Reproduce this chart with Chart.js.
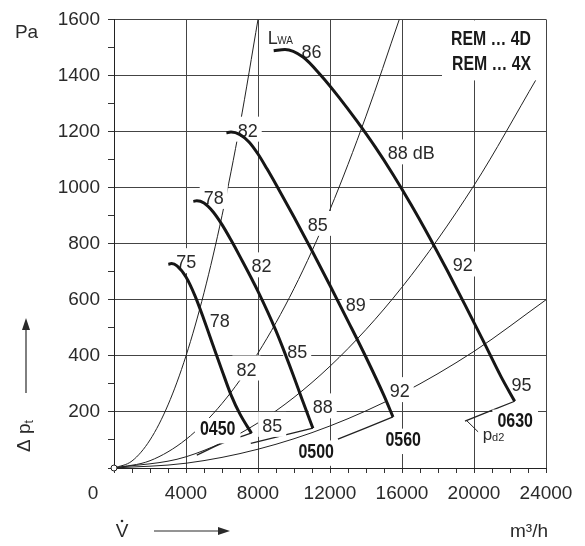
<!DOCTYPE html>
<html>
<head>
<meta charset="utf-8">
<script src="https://cdn.jsdelivr.net/npm/chart.js@4.4.1/dist/chart.umd.min.js"></script>
<style>
html,body{margin:0;padding:0;background:#fff;}
#wrap{width:585px;height:546px;position:relative;}
</style>
</head>
<body>
<div id="wrap"><canvas id="c" width="585" height="546"></canvas></div>
<script>
// ---------- data (volume flow m3/h, total pressure Pa) ----------
const xTickLabels = ['4000', '8000', '12000', '16000', '20000', '24000'];
const yTickLabels = ['200', '400', '600', '800', '1000', '1200', '1400', '1600'];

// fan curves
const fan0450 = [[3017,727],[3200,729],[3500,721],[4000,681],[4500,614],[5000,529],[5500,438],[6000,348],[6500,261],[7000,192],[7640,124]];
const fan0500 = [[4406,951],[4600,953],[5000,945],[5500,914],[6000,868],[6500,813],[7000,754],[8000,630],[9000,489],[10000,324],[10500,236],[11050,142]];
const fan0560 = [[6244,1196],[6500,1198],[7000,1189],[7500,1163],[8000,1120],[8500,1067],[9000,1011],[10000,895],[11000,775],[12000,651],[13000,524],[14000,395],[15000,258],[15500,182]];
const fan0630 = [[8872,1488],[9500,1493],[10500,1466],[11500,1400],[12500,1322],[13500,1237],[14500,1146],[15500,1047],[16500,940],[17500,826],[18500,706],[19500,582],[20500,455],[21500,326],[22260,238]];

// system lines through the origin
const sysA = [[0,0],[1000,25],[2000,100],[3000,225],[4000,400],[5000,625],[6000,900],[7000,1225],[8000,1600]];
const sysB = [[0,0],[2000,26],[4000,102],[6000,230],[8000,410],[10000,640],[12000,922],[14000,1255],[15850,1600]];
const sysC = [[0,0],[4000,40],[8000,161],[12000,363],[16000,645],[20000,1008],[23500,1391]];
const sysD = [[0,0],[4000,17],[8000,67],[12000,150],[16000,266],[20000,416],[24000,600]];

// p_d2 end segments
const pd2_0450 = [[7640,124],[6000,88],[4600,46]];
const pd2_0500 = [[11050,142],[7600,88]];
const pd2_0560 = [[15500,182],[12440,103]];
const pd2_0630 = [[22260,238],[19500,167]];
const pd2Leader = [[19578,170],[20228,129]];

// sound power labels [text, V, p]
const dbLabels = [
  ['75',4011,736],['78',5539,965],['82',7428,1205],['86',10967,1486],
  ['78',5872,526],['82',8189,721],['85',11317,869],['88 dB',16511,1124],
  ['82',7356,353],['85',10178,414],['89',13428,583],['92',19372,724],
  ['85',8789,152],['88',11594,218],['92',15872,276],['95',22633,299]
];
const fanLabels = [['0450',5761,142],['0500',11233,62],['0560',16067,104],['0630',22289,172]];
const seriesTitles = ['REM \u2026 4D', 'REM \u2026 4X'];
const lwaLabel = [8539, 1512];
const pd2Label = [20480, 99];

// ---------- drawing ----------
const FONT = '"Liberation Sans", Arial, Helvetica, sans-serif';
const TXT = '#2a2a2a';
const mk = arr => arr.map(([x, y]) => ({x, y}));
const thick = arr => ({data: mk(arr), borderColor:'#161616', borderWidth:3, pointRadius:0, cubicInterpolationMode:'monotone', fill:false, order:0, thick:true, borderCapStyle:'butt', borderJoinStyle:'round'});
const thin = (arr, w) => ({data: mk(arr), borderColor:'#222', borderWidth:w || 1, pointRadius:0, cubicInterpolationMode:'monotone', fill:false, order:10});

function condensed(ctx, t, x, y, font, sx, align) {
  ctx.save();
  ctx.translate(x, y);
  ctx.scale(sx, 1);
  ctx.font = font;
  ctx.textAlign = align;
  ctx.textBaseline = 'alphabetic';
  ctx.fillText(t, 0, 0);
  ctx.restore();
}

function drawLabels(chart) {
  const {ctx, chartArea: ca} = chart;
  const xs = chart.scales.x, ys = chart.scales.y;
  ctx.save();
  // legend panel
  ctx.fillStyle = '#fff';
  ctx.fillRect(ca.right - 104, ca.top + 1, 104, 60);
  ctx.fillStyle = '#1a1a1a';
  seriesTitles.forEach((t, i) => {
    condensed(ctx, t, ca.right - 15, ca.top + 26 + i * 25, 'bold 20px ' + FONT, 0.79, 'right');
  });
  // dB labels
  const fs = 18, cap = fs * 0.72;
  ctx.font = fs + 'px ' + FONT;
  dbLabels.forEach(([t, v, p]) => {
    const cx = xs.getPixelForValue(v), cy = ys.getPixelForValue(p);
    const w = ctx.measureText(t).width;
    ctx.fillStyle = '#fff';
    ctx.fillRect(cx - w / 2 - 4, cy - cap / 2 - 7, w + 8, cap + 12);
    ctx.fillStyle = TXT;
    ctx.textAlign = 'center';
    ctx.textBaseline = 'alphabetic';
    ctx.fillText(t, cx, cy + cap / 2);
  });
  // fan size labels
  const bfs = 20, bcap = bfs * 0.72, sx = 0.8;
  fanLabels.forEach(([t, v, p]) => {
    const cx = xs.getPixelForValue(v), cy = ys.getPixelForValue(p);
    ctx.font = 'bold ' + bfs + 'px ' + FONT;
    const w = ctx.measureText(t).width * sx;
    ctx.fillStyle = '#fff';
    ctx.fillRect(cx - w / 2 - 5, cy - bcap / 2 - 3, w + 10, bcap + 11);
    ctx.fillStyle = '#161616';
    condensed(ctx, t, cx, cy + bcap / 2, 'bold ' + bfs + 'px ' + FONT, sx, 'center');
  });
  // L_WA
  ctx.fillStyle = TXT;
  ctx.textAlign = 'left';
  ctx.textBaseline = 'alphabetic';
  let lx = xs.getPixelForValue(lwaLabel[0]), ly = ys.getPixelForValue(lwaLabel[1]);
  ctx.font = '18px ' + FONT;
  ctx.fillText('L', lx, ly);
  let lw = ctx.measureText('L').width;
  ctx.font = '10px ' + FONT;
  ctx.fillText('WA', lx + lw - 0.5, ly);
  // p_d2
  lx = xs.getPixelForValue(pd2Label[0]); ly = ys.getPixelForValue(pd2Label[1]);
  ctx.font = '17px ' + FONT;
  ctx.fillText('p', lx, ly);
  lw = ctx.measureText('p').width;
  ctx.font = '11px ' + FONT;
  ctx.fillText('d2', lx + lw, ly + 1);
  ctx.restore();
}

function drawAxisDecor(chart) {
  const {ctx, chartArea: ca} = chart;
  const xs = chart.scales.x;
  ctx.save();
  ctx.fillStyle = TXT;
  ctx.strokeStyle = TXT;
  ctx.font = '19px ' + FONT;
  ctx.textBaseline = 'middle';
  ctx.textAlign = 'center';
  // origin label
  ctx.fillText('0', xs.getPixelForValue(0) - 21, ca.bottom + 5 + 9 + 19 * 1.2 / 2);
  // unit Pa
  ctx.fillText('Pa', 26.5, 33);
  // y title
  ctx.save();
  ctx.translate(25, 436);
  ctx.rotate(-Math.PI / 2);
  ctx.textAlign = 'left';
  ctx.font = '19px ' + FONT;
  const part = '\u0394 p';
  const w1 = ctx.measureText(part).width;
  ctx.font = '12px ' + FONT;
  const w2 = ctx.measureText('t').width;
  ctx.font = '19px ' + FONT;
  ctx.fillText(part, -(w1 + w2) / 2, 0);
  ctx.font = '12px ' + FONT;
  ctx.fillText('t', -(w1 + w2) / 2 + w1, 5);
  ctx.restore();
  // y arrow
  ctx.lineWidth = 1.2;
  ctx.beginPath(); ctx.moveTo(26, 393); ctx.lineTo(26, 328); ctx.stroke();
  ctx.beginPath(); ctx.moveTo(26, 318); ctx.lineTo(22, 330); ctx.lineTo(30, 330); ctx.closePath(); ctx.fill();
  // x title V-dot
  ctx.font = '19px ' + FONT;
  ctx.fillText('V', 122, 532);
  ctx.beginPath(); ctx.arc(122, 521, 1.3, 0, Math.PI * 2); ctx.fill();
  // x arrow
  ctx.beginPath(); ctx.moveTo(154, 531); ctx.lineTo(220, 531); ctx.stroke();
  ctx.beginPath(); ctx.moveTo(230, 531); ctx.lineTo(218, 527); ctx.lineTo(218, 535); ctx.closePath(); ctx.fill();
  // unit m3/h
  ctx.fillText('m\u00b3/h', 529, 532);
  ctx.restore();
}

const decorPlugin = {
  id: 'decor',
  beforeDatasetsDraw(chart) { chart.$labelsDone = false; },
  beforeDatasetDraw(chart, args) {
    if (chart.$labelsDone) return;
    const ds = chart.data.datasets[args.index];
    if (!ds.thick) return;
    chart.$labelsDone = true;
    drawLabels(chart);
  },
  afterDraw(chart) { drawAxisDecor(chart); }
};

const tickFont = {family: FONT, size: 19};

new Chart(document.getElementById('c'), {
  type: 'line',
  data: {
    datasets: [
      {data: [{x:0, y:0}], showLine:false, pointRadius:3, pointBackgroundColor:'#fff', pointBorderColor:'#222', pointBorderWidth:1, order:-1, clip:false},
      thick(fan0450), thick(fan0500), thick(fan0560), thick(fan0630),
      thin(sysA), thin(sysB), thin(sysC), thin(sysD),
      thin(pd2_0450, 1.3), thin(pd2_0500, 1.3), thin(pd2_0560, 1.3), thin(pd2_0630, 1.3), thin(pd2Leader, 1)
    ]
  },
  options: {
    responsive: false,
    animation: false,
    events: [],
    layout: {padding: {left: 0, top: 15, right: 39, bottom: 0}},
    plugins: {legend: {display: false}, tooltip: {enabled: false}},
    scales: {
      x: {
        type: 'linear', min: 0, max: 24000,
        afterFit(s) { s.height = 78; },
        ticks: {stepSize: 1000, autoSkip: false, maxRotation: 0, padding: 9, color: TXT, font: tickFont,
          callback: v => xTickLabels.includes(String(v)) ? String(v) : ''},
        grid: {color: c => (c.tick && c.tick.value % 4000 === 0) ? '#444' : 'rgba(0,0,0,0)', tickColor: '#333', tickLength: 5, lineWidth: 1},
        border: {display: true, color: '#222', width: 1}
      },
      y: {
        type: 'linear', min: 0, max: 1600,
        afterFit(s) { s.width = 114; },
        ticks: {stepSize: 100, autoSkip: false, padding: 8, color: TXT, font: tickFont,
          callback: v => yTickLabels.includes(String(v)) ? String(v) : ''},
        grid: {color: c => (c.tick && c.tick.value % 200 === 0) ? '#444' : 'rgba(0,0,0,0)', tickColor: '#333', tickLength: 6, lineWidth: 1},
        border: {display: true, color: '#222', width: 1}
      }
    }
  },
  plugins: [decorPlugin]
});
</script>
</body>
</html>
